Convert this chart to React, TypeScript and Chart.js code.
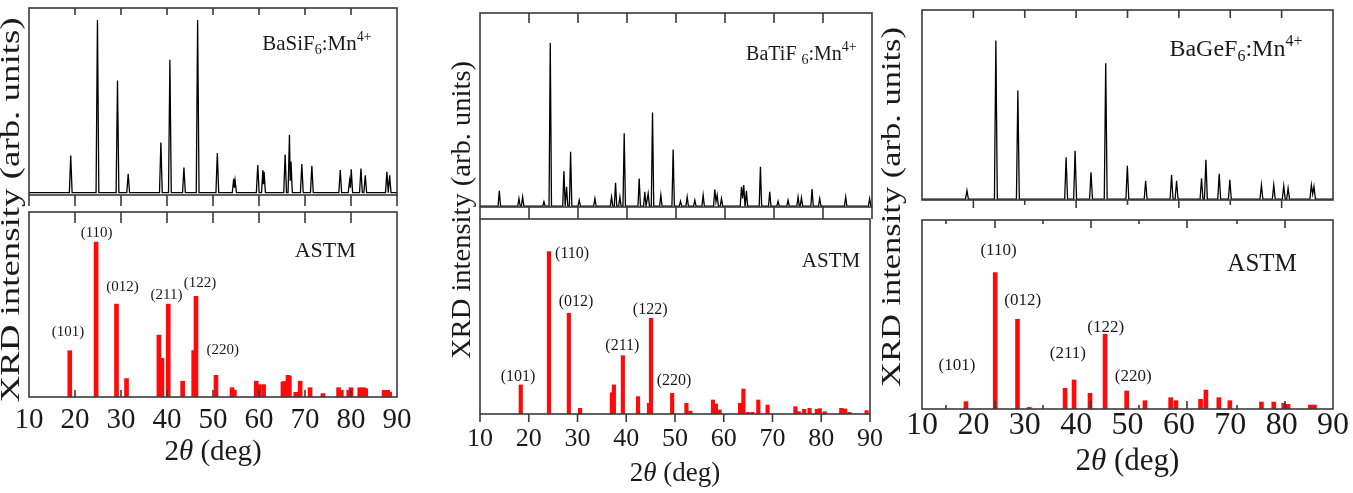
import React, { useEffect, useRef } from 'react';
import { Chart, registerables } from 'chart.js';

Chart.register(...registerables);

// ---------------- data ----------------
const twoThetaMin = 10;
const twoThetaMax = 90;
const twoThetaStep = 10;
const yTitle = 'XRD intensity (arb. units)';
const astmLabel = 'ASTM';
const hklLabels = ['(101)', '(110)', '(012)', '(211)', '(122)', '(220)'];

// BaSiF6:Mn4+ measured pattern (peak 2θ, relative intensity)
const siPeakPos = [19.07, 24.88, 29.24, 31.56, 38.67, 40.63, 43.68, 46.66, 50.94, 54.5, 54.8, 59.73, 60.85, 61.1, 65.68, 66.62, 66.95, 69.31, 71.49, 77.66, 79.7, 80.05, 82.16, 83.1, 87.8, 88.4];
const siPeakInt = [21.5, 100, 65, 10.9, 29, 77, 14.5, 100, 23, 8, 7, 16, 13, 12, 22, 33.5, 18, 16.5, 15.5, 13, 7, 13.5, 14, 10, 12, 10];
// BaSiF6 ASTM reference lines
const siRefPos = [18.86, 24.59, 29.02, 31.2, 38.24, 38.9, 40.27, 43.4, 45.8, 46.3, 50.65, 54.14, 54.65, 59.4, 60.0, 61.0, 65.2, 65.5, 66.3, 66.6, 68.0, 68.95, 71.1, 73.9, 77.3, 77.9, 79.5, 80.0, 81.9, 82.7, 83.2, 87.2, 87.97, 88.4];
const siRefInt = [29.9, 100, 60, 11.9, 40, 25, 60, 10.2, 30, 65, 14, 6, 4.3, 10.2, 8, 8, 9.7, 10, 14, 13.4, 3, 10.2, 6, 2.2, 6, 4.3, 4.3, 6, 6, 6, 5.4, 4.3, 4.3, 3.2];

// BaTiF6:Mn4+ measured pattern
const tiPeakPos = [13.94, 17.95, 18.7, 23.05, 24.34, 27.13, 27.67, 28.49, 30.25, 33.45, 36.85, 37.66, 38.55, 39.43, 42.49, 43.64, 44.32, 45.21, 46.91, 49.42, 50.92, 52.28, 53.84, 55.54, 57.92, 58.4, 59.28, 63.36, 63.83, 64.37, 67.23, 69.13, 70.83, 72.87, 74.91, 75.6, 77.77, 79.33, 84.63, 89.52];
const tiPeakInt = [9.4, 4.7, 5.7, 2.7, 100, 21.5, 11.9, 33.4, 3.7, 4.7, 5.7, 14.3, 5.7, 44.7, 17, 8.8, 7.8, 57.4, 6.8, 34.8, 3, 5.7, 3.7, 6.8, 10.2, 6.8, 4.7, 11.9, 12.9, 9.4, 24.2, 8.8, 3, 3.7, 5.7, 5.3, 10.5, 4.7, 5.7, 4.7];
// BaTiF6 ASTM reference lines
const tiRefPos = [18.36, 24.14, 28.22, 30.53, 37.05, 37.46, 39.3, 42.42, 44.66, 45.07, 49.42, 52.34, 53.16, 57.78, 58.39, 59.14, 63.35, 64.03, 64.92, 65.87, 67.09, 69.0, 74.7, 75.4, 76.5, 77.6, 79.1, 79.7, 80.7, 84.1, 84.9, 85.8, 89.3];
const tiRefInt = [17.9, 100, 62, 3.5, 13.1, 17.9, 35.9, 10.7, 6.6, 58.9, 12.7, 6.6, 1.8, 8.6, 6.2, 2.5, 6.6, 15.4, 1.0, 1.0, 8.6, 5.5, 4.5, 1.4, 2.9, 3.5, 2.9, 3.3, 1.4, 3.5, 3.1, 1.0, 2.1];

// BaGeF6:Mn4+ measured pattern
const gePeakPos = [18.75, 24.38, 28.66, 38.05, 39.8, 42.9, 45.76, 49.97, 53.53, 58.58, 59.55, 64.41, 65.26, 67.85, 69.92, 76.07, 78.47, 80.41, 81.26, 85.79, 86.3];
const gePeakInt = [5.5, 100, 68.5, 26.5, 30.5, 17, 85.7, 21, 11.6, 15.3, 11.6, 13.2, 24.8, 16, 12.2, 9, 9, 8.4, 6.9, 9, 8];
// BaGeF6 ASTM reference lines
const geRefPos = [18.55, 24.25, 28.59, 30.86, 37.85, 39.6, 42.7, 45.63, 49.84, 53.4, 58.4, 59.43, 64.22, 65.26, 67.78, 69.92, 76.07, 78.47, 80.41, 81.26, 85.6, 86.4];
const geRefInt = [5.4, 100, 65.8, 1.2, 15.2, 21.3, 11.5, 54.8, 13.2, 6.1, 8.3, 6.1, 7.1, 13.9, 8.3, 6.1, 5.1, 5.1, 4.2, 3.4, 2.9, 2.9];

type Part = [string, '' | 'sub' | 'sup' | 'it'];
const siName: Part[] = [['BaSiF', ''], ['6', 'sub'], [':Mn', ''], ['4+', 'sup']];
const tiName: Part[] = [['BaTiF ', ''], ['6', 'sub'], [':Mn', ''], ['4+', 'sup']];
const geName: Part[] = [['BaGeF', ''], ['6', 'sub'], [':Mn', ''], ['4+', 'sup']];
const xTitleParts: Part[] = [['2', ''], ['θ', 'it'], [' (deg)', '']];

// ---------------- helpers ----------------
const SERIF = "'Liberation Serif', 'Times New Roman', Times, serif";
const INK = '#1a1a1a';
const FRAME = '#3a3a3a';

function buildProfile(pos: number[], ints: number[], hw: number) {
  const idx = pos.map((_, i) => i).sort((a, b) => pos[a] - pos[b]);
  const pts: { x: number; y: number }[] = [{ x: twoThetaMin, y: 0 }];
  idx.forEach((i, k) => {
    const prev = k > 0 ? idx[k - 1] : -1;
    const next = k < idx.length - 1 ? idx[k + 1] : -1;
    if (prev < 0 || pos[i] - pos[prev] >= 2 * hw) pts.push({ x: pos[i] - hw, y: 0 });
    pts.push({ x: pos[i], y: ints[i] });
    if (next >= 0 && pos[next] - pos[i] < 2 * hw) {
      pts.push({ x: (pos[i] + pos[next]) / 2, y: 0.4 * Math.min(ints[i], ints[next]) });
    } else {
      pts.push({ x: pos[i] + hw, y: 0 });
    }
  });
  pts.push({ x: twoThetaMax, y: 0 });
  return pts;
}

function drawRich(ctx: CanvasRenderingContext2D, parts: Part[], x: number, y: number, size: number, align: string) {
  const fontFor = (m: string) =>
    m === 'it' ? `italic ${size}px ${SERIF}` : `${m ? Math.round(size * 0.68) : size}px ${SERIF}`;
  const widths = parts.map(([t, m]) => {
    ctx.font = fontFor(m);
    return ctx.measureText(t).width;
  });
  const total = widths.reduce((a, b) => a + b, 0);
  let cx = align === 'center' ? x - total / 2 : align === 'right' ? x - total : x;
  const base = y + size * 0.33;
  ctx.textAlign = 'left';
  ctx.textBaseline = 'alphabetic';
  parts.forEach(([t, m], i) => {
    ctx.font = fontFor(m);
    const by = m === 'sub' ? base + size * 0.2 : m === 'sup' ? base - size * 0.42 : base;
    ctx.fillText(t, cx, by);
    cx += widths[i];
  });
}

type TickSpec = { v: number; len: number }[];
type Side = { ticks: TickSpec; dir: 'in' | 'out' } | null;
const evenTicks = (vals: number[], len: number): TickSpec => vals.map((v) => ({ v, len }));
const inner = [20, 30, 40, 50, 60, 70, 80];
const all = [10, 20, 30, 40, 50, 60, 70, 80, 90];

type Label = { x: number; y: number; parts: Part[]; size: number; align?: string };

type PanelCfg = {
  left: number; width: number;
  frameL: number; frameR: number;
  topT: number; topB: number; botT: number; botB: number;
  tickFont: number; titleFont: number; labelCenter: number; titleCenter: number;
  peakPos: number[]; peakInt: number[]; hw: number;
  refPos: number[]; refInt: number[]; barW: number;
  topY: [number, number]; botY: [number, number];
  topLabels: Label[]; botLabels: Label[];
  topSides: [Side, Side]; botSides: [Side, Side];
  ylab: { cx: number; cy: number; len: number; size: number };
};

function makeFramePlugin(sides: [Side, Side]) {
  return {
    id: 'frameTicks',
    afterDatasetsDraw(chart: any) {
      const { ctx, chartArea: a, scales } = chart;
      ctx.save();
      ctx.strokeStyle = FRAME;
      ctx.lineWidth = 1.6;
      ctx.strokeRect(a.left, a.top, a.right - a.left, a.bottom - a.top);
      const draw = (side: Side, yEdge: number, sign: number) => {
        if (!side) return;
        ctx.beginPath();
        for (const t of side.ticks) {
          const px = scales.x.getPixelForValue(t.v);
          ctx.moveTo(px, yEdge);
          ctx.lineTo(px, yEdge + sign * t.len);
        }
        ctx.stroke();
      };
      if (sides[0]) draw(sides[0], a.top, sides[0].dir === 'in' ? 1 : -1);
      if (sides[1]) draw(sides[1], a.bottom, sides[1].dir === 'in' ? -1 : 1);
      ctx.restore();
    },
  };
}

function makeLabelPlugin(labels: Label[]) {
  return {
    id: 'labels',
    afterDraw(chart: any) {
      const { ctx, scales } = chart;
      ctx.save();
      ctx.fillStyle = INK;
      for (const l of labels) {
        drawRich(ctx, l.parts, scales.x.getPixelForValue(l.x), scales.y.getPixelForValue(l.y), l.size, l.align || 'center');
      }
      ctx.restore();
    },
  };
}

function makeAxisTitlesPlugin(cfg: PanelCfg) {
  return {
    id: 'axisTitles',
    afterDraw(chart: any) {
      const { ctx, chartArea: a } = chart;
      ctx.save();
      ctx.fillStyle = INK;
      // x-axis title (2θ with italic theta), centred under the plot
      drawRich(ctx, xTitleParts, (a.left + a.right) / 2, cfg.titleCenter, cfg.titleFont, 'center');
      // y-axis title, rotated and fitted to its length
      const { cx, cy, len, size } = cfg.ylab;
      ctx.font = `${size}px ${SERIF}`;
      const w = ctx.measureText(yTitle).width;
      ctx.translate(cx - cfg.left, cy);
      ctx.rotate(-Math.PI / 2);
      ctx.scale(len / w, 1);
      ctx.textAlign = 'center';
      ctx.textBaseline = 'middle';
      ctx.fillText(yTitle, 0, 0);
      ctx.restore();
    },
  };
}

function Panel({ cfg }: { cfg: PanelCfg }) {
  const topRef = useRef<HTMLCanvasElement | null>(null);
  const botRef = useRef<HTMLCanvasElement | null>(null);

  const topH = cfg.topB + 20;
  // Chart.js reserves the tick padding twice in the axis height
  const tickPad = Math.max(0, cfg.labelCenter - cfg.botB - cfg.tickFont / 2);
  const axisH = 2 * tickPad + cfg.tickFont;
  const botH = Math.round(cfg.titleCenter + cfg.titleFont);
  const padBottom = botH - cfg.botB - axisH;
  const padL = cfg.frameL - cfg.left;
  const padR = cfg.left + cfg.width - cfg.frameR;

  useEffect(() => {
    const xScale = (show: boolean) => ({
      type: 'linear' as const,
      min: twoThetaMin,
      max: twoThetaMax,
      offset: false,
      display: show,
      ticks: {
        stepSize: twoThetaStep,
        autoSkip: false,
        maxRotation: 0,
        minRotation: 0,
        padding: tickPad,
        color: INK,
        font: { family: SERIF, size: cfg.tickFont, lineHeight: 1 },
      },
      grid: { display: false, drawTicks: false, offset: false },
      border: { display: false },
      title: { display: false },
    });
    const common = {
      responsive: false,
      animation: false as const,
      events: [] as any[],
      plugins: { legend: { display: false }, tooltip: { enabled: false } },
    };
    const top = new Chart(topRef.current as HTMLCanvasElement, {
      type: 'line',
      data: {
        datasets: [
          {
            data: buildProfile(cfg.peakPos, cfg.peakInt, cfg.hw),
            borderColor: '#000',
            borderWidth: 1.3,
            pointRadius: 0,
            tension: 0,
            fill: false,
          },
        ],
      },
      options: {
        ...common,
        layout: { padding: { left: padL, right: padR, top: cfg.topT, bottom: topH - cfg.topB } },
        scales: {
          x: xScale(false),
          y: { type: 'linear', min: cfg.topY[0], max: cfg.topY[1], display: false },
        },
      } as any,
      plugins: [makeFramePlugin(cfg.topSides), makeLabelPlugin(cfg.topLabels)],
    });
    const bot = new Chart(botRef.current as HTMLCanvasElement, {
      type: 'bar',
      data: {
        datasets: [
          {
            data: cfg.refPos.map((x, i) => ({ x, y: cfg.refInt[i] })),
            backgroundColor: '#ff0a0a',
            borderWidth: 0,
            barThickness: cfg.barW,
          },
        ],
      },
      options: {
        ...common,
        layout: { padding: { left: padL, right: padR, top: cfg.botT, bottom: padBottom } },
        scales: {
          x: xScale(true),
          y: { type: 'linear', min: cfg.botY[0], max: cfg.botY[1], display: false },
        },
      } as any,
      plugins: [makeFramePlugin(cfg.botSides), makeLabelPlugin(cfg.botLabels), makeAxisTitlesPlugin(cfg)],
    });
    return () => {
      top.destroy();
      bot.destroy();
    };
  }, []);

  return (
    <>
      <canvas ref={topRef} width={cfg.width} height={topH} style={{ position: 'absolute', left: cfg.left, top: 0 }} />
      <canvas ref={botRef} width={cfg.width} height={botH} style={{ position: 'absolute', left: cfg.left, top: 0 }} />
    </>
  );
}

const hkl = (x: number, y: number, i: number, size: number): Label => ({ x, y, parts: [[hklLabels[i], '']], size });
const astm = (x: number, y: number, size: number): Label => ({ x, y, parts: [[astmLabel, '']], size });

const geOdd = [14.67, 24.21, 33.55, 42.9, 52.24, 61.58, 71.31, 80.66];
const geOddTicks: TickSpec = geOdd.map((v, i) => ({ v, len: i % 2 === 0 ? 4 : 8 }));

const panels: PanelCfg[] = [
  {
    left: 0, width: 432, frameL: 29, frameR: 397,
    topT: 8, topB: 195, botT: 212, botB: 397,
    tickFont: 29, titleFont: 29, labelCenter: 420.7, titleCenter: 450.7,
    peakPos: siPeakPos, peakInt: siPeakInt, hw: 0.3,
    refPos: siRefPos, refInt: siRefInt, barW: 4,
    topY: [-1.4, 107], botY: [0, 119.5],
    topLabels: [{ x: 72.6, y: 86.8, parts: siName, size: 21 }],
    botLabels: [
      astm(74.4, 94.8, 22),
      hkl(18.5, 42.6, 0, 15), hkl(24.7, 106.5, 1, 15), hkl(30.3, 71.9, 2, 15),
      hkl(39.9, 66.7, 3, 15), hkl(47.2, 74, 4, 15), hkl(52.1, 30.7, 5, 15),
    ],
    topSides: [{ ticks: evenTicks(inner, 7), dir: 'in' }, { ticks: evenTicks(all, 11), dir: 'out' }],
    botSides: [{ ticks: evenTicks(inner, 11), dir: 'in' }, { ticks: evenTicks(inner, 7), dir: 'in' }],
    ylab: { cx: 12, cy: 210, len: 385, size: 27 },
  },
  {
    left: 440, width: 455, frameL: 480, frameR: 872,
    topT: 13, topB: 207, botT: 219, botB: 414,
    tickFont: 26, titleFont: 27, labelCenter: 439, titleCenter: 472,
    peakPos: tiPeakPos, peakInt: tiPeakInt, hw: 0.25,
    refPos: tiRefPos, refInt: tiRefInt, barW: 3.5,
    topY: [-0.5, 118.4], botY: [0, 120],
    topLabels: [{ x: 75.6, y: 93.9, parts: tiName, size: 20 }],
    botLabels: [
      astm(82.0, 94.5, 21),
      hkl(17.8, 23.6, 0, 16), hkl(28.9, 99.2, 1, 16), hkl(29.7, 69.8, 2, 16),
      hkl(39.2, 42.5, 3, 16), hkl(44.9, 64.7, 4, 16), hkl(49.8, 21, 5, 16),
    ],
    topSides: [{ ticks: evenTicks(inner, 10), dir: 'in' }, { ticks: evenTicks(all, 12), dir: 'out' }],
    botSides: [null, { ticks: evenTicks(all, 8), dir: 'out' }],
    ylab: { cx: 463, cy: 210, len: 298, size: 27 },
  },
  {
    left: 878, width: 475, frameL: 922, frameR: 1333,
    topT: 10, topB: 200, botT: 220, botB: 409,
    tickFont: 32, titleFont: 31, labelCenter: 426, titleCenter: 460,
    peakPos: gePeakPos, peakInt: gePeakInt, hw: 0.28,
    refPos: geRefPos, refInt: geRefInt, barW: 4,
    topY: [-0.5, 119.3], botY: [0, 138.6],
    topLabels: [{ x: 71.1, y: 95.2, parts: geName, size: 24 }],
    botLabels: [
      astm(76.2, 107.3, 25),
      hkl(16.8, 33, 0, 17), hkl(24.9, 117, 1, 17), hkl(29.6, 80.7, 2, 17),
      hkl(38.4, 41.3, 3, 17), hkl(45.76, 60.9, 4, 17), hkl(51.1, 24.9, 5, 17),
    ],
    topSides: [
      { ticks: evenTicks(inner, 8), dir: 'in' },
      { ticks: [20, 30, 40, 50, 60, 70, 80].map((v) => ({ v, len: v % 20 === 0 ? 8 : 5 })), dir: 'out' },
    ],
    botSides: [{ ticks: geOddTicks, dir: 'in' }, { ticks: geOddTicks, dir: 'in' }],
    ylab: { cx: 893, cy: 207, len: 360, size: 28 },
  },
];

export default function App() {
  return (
    <div style={{ position: 'absolute', left: 0, top: 0, width: 1353, height: 493, overflow: 'hidden', background: '#fff' }}>
      {panels.map((p, i) => (
        <Panel key={i} cfg={p} />
      ))}
    </div>
  );
}
